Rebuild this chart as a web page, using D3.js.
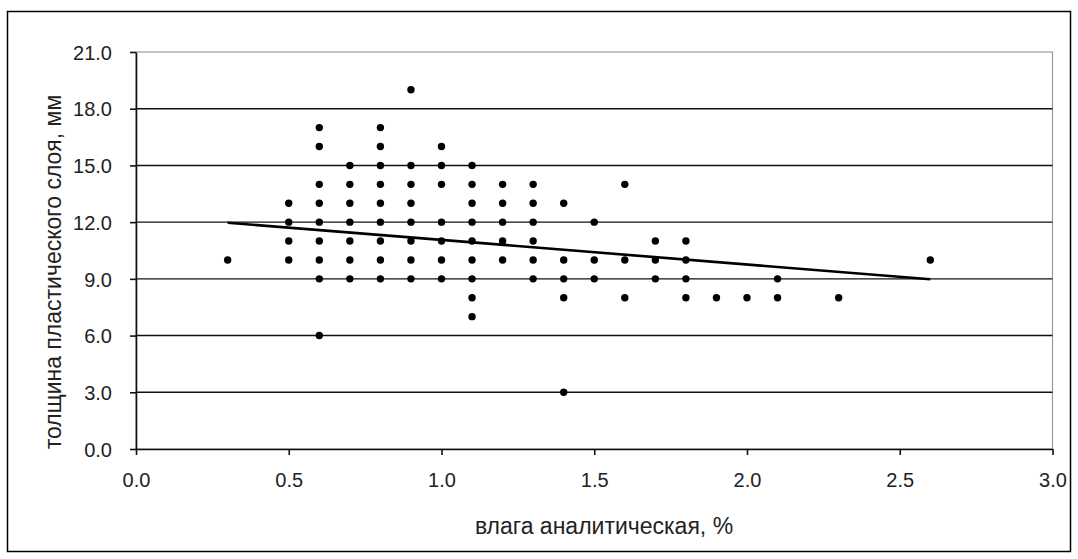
<!DOCTYPE html>
<html>
<head>
<meta charset="utf-8">
<script src="https://cdn.jsdelivr.net/npm/d3@7"></script>
<style>
  html, body { margin: 0; padding: 0; background: #fff; }
  svg { display: block; }
  text { font-family: "Liberation Sans", Arial, sans-serif; fill: #222; }
</style>
</head>
<body>
<svg id="chart" width="1078" height="559"></svg>
<script>
// Moisture (x) and plastic-layer thickness (y) for each measured sample
const moisture = [
  0.3,
  0.5, 0.5, 0.5, 0.5,
  0.6, 0.6, 0.6, 0.6, 0.6, 0.6, 0.6, 0.6, 0.6,
  0.7, 0.7, 0.7, 0.7, 0.7, 0.7, 0.7,
  0.8, 0.8, 0.8, 0.8, 0.8, 0.8, 0.8, 0.8, 0.8,
  0.9, 0.9, 0.9, 0.9, 0.9, 0.9, 0.9, 0.9,
  1.0, 1.0, 1.0, 1.0, 1.0, 1.0, 1.0,
  1.1, 1.1, 1.1, 1.1, 1.1, 1.1, 1.1, 1.1, 1.1,
  1.2, 1.2, 1.2, 1.2, 1.2,
  1.3, 1.3, 1.3, 1.3, 1.3, 1.3,
  1.4, 1.4, 1.4, 1.4, 1.4,
  1.5, 1.5, 1.5,
  1.6, 1.6, 1.6,
  1.7, 1.7, 1.7,
  1.8, 1.8, 1.8, 1.8,
  1.9,
  2.0,
  2.1, 2.1,
  2.3,
  2.6
];
const thickness = [
  10,
  13, 12, 11, 10,
  17, 16, 14, 13, 12, 11, 10, 9, 6,
  15, 14, 13, 12, 11, 10, 9,
  17, 16, 15, 14, 13, 12, 11, 10, 9,
  19, 15, 14, 13, 12, 11, 10, 9,
  16, 15, 14, 12, 11, 10, 9,
  15, 14, 13, 12, 11, 10, 9, 8, 7,
  14, 13, 12, 11, 10,
  14, 13, 12, 11, 10, 9,
  13, 10, 9, 8, 3,
  12, 10, 9,
  14, 10, 8,
  11, 10, 9,
  11, 10, 9, 8,
  8,
  8,
  9, 8,
  8,
  10
];

// Linear trend line end points
const trendX = [0.3, 2.6];
const trendY = [11.97, 8.98];

// Axis ticks and titles
const xTicks = [0, 0.5, 1.0, 1.5, 2.0, 2.5, 3.0];
const yTicks = [0, 3, 6, 9, 12, 15, 18, 21];
const xTitle = "влага аналитическая, %";
const yTitle = "толщина пластического слоя, мм";

const svg = d3.select("#chart");

// chart frame
svg.append("rect")
  .attr("x", 7.5).attr("y", 11.5)
  .attr("width", 1063).attr("height", 540)
  .attr("fill", "#fff").attr("stroke", "#000").attr("stroke-width", 1.5);

const x = d3.scaleLinear().domain([0, 3]).range([136, 1052.5]);
const y = d3.scaleLinear().domain([0, 21]).range([449, 52]);

// plot area border
svg.append("rect")
  .attr("x", x(0)).attr("y", y(21))
  .attr("width", x(3) - x(0)).attr("height", y(0) - y(21))
  .attr("fill", "none").attr("stroke", "#9a9a9a").attr("stroke-width", 1.2);

// horizontal gridlines
svg.append("g")
  .selectAll("line")
  .data(yTicks.filter(t => t > 0 && t < 21))
  .join("line")
  .attr("x1", x(0)).attr("x2", x(3))
  .attr("y1", d => y(d)).attr("y2", d => y(d))
  .attr("stroke", "#111").attr("stroke-width", 1.4);

// axes
const fmt = d3.format(".1f");
const xAxis = svg.append("g")
  .attr("transform", `translate(0,${y(0)})`)
  .call(d3.axisBottom(x).tickValues(xTicks).tickFormat(fmt).tickSizeInner(6).tickSizeOuter(0).tickPadding(18));
const yAxis = svg.append("g")
  .attr("transform", `translate(${x(0)},0)`)
  .call(d3.axisLeft(y).tickValues(yTicks).tickFormat(fmt).tickSizeInner(6).tickSizeOuter(0).tickPadding(18));

[xAxis, yAxis].forEach(a => {
  a.select(".domain").attr("stroke", "#111").attr("stroke-width", 1.6);
  a.selectAll(".tick line").attr("stroke", "#111").attr("stroke-width", 1.6);
  a.selectAll(".tick text")
    .attr("font-family", "Liberation Sans, Arial, sans-serif")
    .attr("font-size", 20).attr("fill", "#2a2a2a");
});
yAxis.selectAll(".tick text").attr("dy", "0.36em");

// trend line
svg.append("path")
  .datum(d3.zip(trendX, trendY))
  .attr("d", d3.line().x(d => x(d[0])).y(d => y(d[1])))
  .attr("fill", "none").attr("stroke", "#000").attr("stroke-width", 2.6);

// sample points
svg.append("g")
  .selectAll("circle")
  .data(d3.zip(moisture, thickness))
  .join("circle")
  .attr("cx", d => x(d[0])).attr("cy", d => y(d[1]))
  .attr("r", 3.7).attr("fill", "#000");

// axis titles
svg.append("text")
  .attr("x", 604).attr("y", 534)
  .attr("text-anchor", "middle").attr("font-size", 23).attr("fill", "#2a2a2a")
  .text(xTitle);

svg.append("text")
  .attr("transform", "translate(61,272) rotate(-90)")
  .attr("text-anchor", "middle").attr("font-size", 23).attr("fill", "#2a2a2a")
  .text(yTitle);
</script>
</body>
</html>
